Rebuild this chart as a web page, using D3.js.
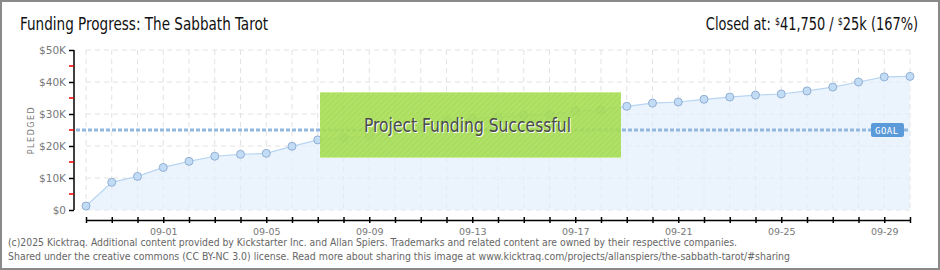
<!DOCTYPE html>
<html>
<head>
<meta charset="utf-8">
<script src="https://cdn.jsdelivr.net/npm/d3@7"></script>
<style>
  body { margin: 0; background: #fff; }
  svg { display: block; }
</style>
</head>
<body>
<div id="chart"></div>
<script>
"use strict";

var days = ["08-29", "08-30", "08-31", "09-01", "09-02", "09-03", "09-04", "09-05", "09-06", "09-07",
    "09-08", "09-09", "09-10", "09-11", "09-12", "09-13", "09-14", "09-15", "09-16", "09-17",
    "09-18", "09-19", "09-20", "09-21", "09-22", "09-23", "09-24", "09-25", "09-26", "09-27",
    "09-28", "09-29", "09-30"];
var pledged = [1250, 8650, 10500, 13300, 15200, 16800, 17400, 17700, 19900, 21900,
    22600, 23000, 24900, 26800, 28000, 28600, 29000, 29600, 29900, 31000,
    31250, 32400, 33400, 33750, 34600, 35300, 35900, 36250, 37200, 38400,
    40000, 41600, 41750];
var goal = 25000;
var yTicks = [0, 10000, 20000, 30000, 40000, 50000];
var yMinorTicks = [5000, 15000, 25000, 35000, 45000];
var xLabelDays = ["09-01", "09-05", "09-09", "09-13", "09-17", "09-21", "09-25", "09-29"];

var W = 940, H = 270;
var margin = { top: 50, left: 86, right: 30, bottom: 60 };
var narrow = "'Liberation Sans Narrow', 'DejaVu Sans Condensed', 'Roboto Condensed', sans-serif";

var parseDay = d3.utcParse("%Y-%m-%d");
var data = days.map(function (d, i) {
    return { date: parseDay("2024-" + d), value: pledged[i] };
});

var svg = d3.select("#chart").append("svg")
    .attr("width", W)
    .attr("height", H);

svg.append("rect")
    .attr("x", 1).attr("y", 1)
    .attr("width", W - 2).attr("height", H - 2)
    .attr("fill", "#fff")
    .attr("stroke", "#8a8a8a")
    .attr("stroke-width", 2);

var x = d3.scaleUtc()
    .domain(d3.extent(data, function (d) { return d.date; }))
    .range([margin.left, W - margin.right]);
var y = d3.scaleLinear()
    .domain([0, 50000])
    .range([210, margin.top]);

// grid
var grid = svg.append("g");
grid.selectAll("line.v")
  .data(data)
  .enter().append("line")
    .attr("x1", function (d) { return x(d.date); })
    .attr("x2", function (d) { return x(d.date); })
    .attr("y1", y(50000)).attr("y2", y(0))
    .attr("stroke", "#e2e2e2")
    .attr("stroke-dasharray", "5,4");
grid.selectAll("line.h")
  .data(yTicks)
  .enter().append("line")
    .attr("x1", x.range()[0]).attr("x2", x.range()[1])
    .attr("y1", function (d) { return y(d); })
    .attr("y2", function (d) { return y(d); })
    .attr("stroke", "#e2e2e2")
    .attr("stroke-dasharray", "5,4");

// area + line
var area = d3.area()
    .x(function (d) { return x(d.date); })
    .y0(y(0))
    .y1(function (d) { return y(d.value); });
svg.append("path")
    .datum(data)
    .attr("d", area)
    .attr("fill", "#e3effc")
    .attr("fill-opacity", 0.7);
svg.append("path")
    .datum(data)
    .attr("d", d3.line()
        .x(function (d) { return x(d.date); })
        .y(function (d) { return y(d.value); }))
    .attr("fill", "none")
    .attr("stroke", "#b8d5f3")
    .attr("stroke-width", 1.2);

// goal line
svg.append("line")
    .attr("x1", x.range()[0] - 10).attr("x2", x.range()[1])
    .attr("y1", y(goal)).attr("y2", y(goal))
    .attr("stroke", "#93b8e0")
    .attr("stroke-width", 3)
    .attr("stroke-dasharray", "4,2");

// dots
svg.selectAll("circle.pt")
  .data(data)
  .enter().append("circle")
    .attr("cx", function (d) { return x(d.date); })
    .attr("cy", function (d) { return y(d.value); })
    .attr("r", 4)
    .attr("fill", "#c3dcf6")
    .attr("stroke", "#90afd3")
    .attr("stroke-width", 1);

// goal tag
var goalTag = svg.append("g")
    .attr("transform", "translate(" + (x.range()[1] - 39) + "," + (y(goal) - 7) + ")");
goalTag.append("rect")
    .attr("width", 33).attr("height", 14).attr("rx", 2)
    .attr("fill", "#5b9ad9");
goalTag.append("text")
    .attr("x", 4).attr("y", 10.5)
    .attr("fill", "#fff")
    .style("font-family", "'DejaVu Sans Mono', monospace")
    .style("font-size", "9px")
    .style("letter-spacing", "0.5px")
    .text("GOAL");

// y axis
var yAxis = svg.append("g")
    .attr("transform", "translate(74,0)")
    .call(d3.axisLeft(y).tickValues(yTicks).tickSize(5)
        .tickFormat(function (d) { return "$" + (d / 1000) + (d ? "K" : ""); }));
yAxis.select(".domain").attr("stroke", "#000").attr("stroke-width", 1.5)
    .attr("d", "M0," + y(50000) + "V" + y(0));
yAxis.selectAll(".tick line").attr("stroke", "#000").attr("stroke-width", 1.5);
yAxis.selectAll(".tick text")
    .attr("fill", "#777")
    .style("font-family", "'DejaVu Sans', sans-serif")
    .style("font-size", "10.5px");
yAxis.selectAll("line.minor")
  .data(yMinorTicks)
  .enter().append("line")
    .attr("x1", -5).attr("x2", 0)
    .attr("y1", function (d) { return y(d); })
    .attr("y2", function (d) { return y(d); })
    .attr("stroke", "#e00")
    .attr("stroke-width", 1.5);

svg.append("text")
    .attr("transform", "translate(34,130) rotate(-90)")
    .attr("text-anchor", "middle")
    .attr("fill", "#777")
    .style("font-family", "'DejaVu Sans', sans-serif")
    .style("font-size", "8px")
    .style("letter-spacing", "1.5px")
    .text("PLEDGED");

// x axis
var xAxis = svg.append("g")
    .attr("transform", "translate(0,220)")
    .call(d3.axisBottom(x).tickValues(data.map(function (d) { return d.date; }))
        .tickSizeInner(3).tickSizeOuter(0)
        .tickFormat(function (d) {
            var s = d3.utcFormat("%m-%d")(d);
            return xLabelDays.indexOf(s) >= 0 ? s : "";
        }));
xAxis.select(".domain").attr("stroke", "#000").attr("stroke-width", 1.5);
xAxis.selectAll(".tick line")
    .attr("y1", -3).attr("y2", 3)
    .attr("stroke", "#000").attr("stroke-width", 1.5);
xAxis.selectAll(".tick text")
    .attr("y", 8)
    .attr("fill", "#777")
    .style("font-family", "'DejaVu Sans', sans-serif")
    .style("font-size", "9.5px");

// funded banner
var defs = svg.append("defs");
var hatch = defs.append("pattern")
    .attr("id", "hatch")
    .attr("patternUnits", "userSpaceOnUse")
    .attr("width", 4).attr("height", 4)
    .attr("patternTransform", "rotate(-45)");
hatch.append("rect").attr("width", 4).attr("height", 4).attr("fill", "#a2da4e");
hatch.append("line").attr("x1", 0).attr("x2", 4).attr("y1", 1).attr("y2", 1)
    .attr("stroke", "#b2e462").attr("stroke-width", 1);

var banner = svg.append("g").attr("opacity", 0.9);
banner.append("rect")
    .attr("x", 320).attr("y", 92)
    .attr("width", 301).attr("height", 66)
    .attr("fill", "url(#hatch)");
banner.append("line")
    .attr("x1", 320).attr("x2", 621).attr("y1", 92.5).attr("y2", 92.5)
    .attr("stroke", "#c6ec8c");
banner.append("line")
    .attr("x1", 320).attr("x2", 621).attr("y1", 157.5).attr("y2", 157.5)
    .attr("stroke", "#c6ec8c");
svg.append("text")
    .attr("x", 365).attr("y", 133)
    .attr("fill", "#fff")
    .attr("textLength", 207).attr("lengthAdjust", "spacingAndGlyphs")
    .style("font-family", narrow)
    .style("font-size", "20px")
    .text("Project Funding Successful");
svg.append("text")
    .attr("x", 364).attr("y", 132)
    .attr("fill", "#4a4a4a")
    .attr("textLength", 207).attr("lengthAdjust", "spacingAndGlyphs")
    .style("font-family", narrow)
    .style("font-size", "20px")
    .text("Project Funding Successful");

// titles
svg.append("text")
    .attr("x", 20).attr("y", 30)
    .attr("fill", "#111")
    .attr("textLength", 248).attr("lengthAdjust", "spacingAndGlyphs")
    .style("font-family", narrow)
    .style("font-size", "18px")
    .text("Funding Progress: The Sabbath Tarot");

// right-hand summary, squeezed to the reference width
var closedText = svg.append("text")
    .attr("transform", "translate(918,30) scale(0.8,1)")
    .attr("text-anchor", "end")
    .attr("fill", "#111")
    .style("font-family", narrow)
    .style("font-size", "18px");
closedText.append("tspan").text("Closed at:  ");
closedText.append("tspan").style("font-size", "11px").attr("dy", -5).text("$");
closedText.append("tspan").attr("dy", 5).text("41,750 /  ");
closedText.append("tspan").style("font-size", "11px").attr("dy", -5).text("$");
closedText.append("tspan").attr("dy", 5).text("25k (167%)");

// footer
var foot = [
    "(c)2025 Kicktraq. Additional content provided by Kickstarter Inc. and Allan Spiers. Trademarks and related content are owned by their respective companies.",
    "Shared under the creative commons (CC BY-NC 3.0) license. Read more about sharing this image at www.kicktraq.com/projects/allanspiers/the-sabbath-tarot/#sharing"
];
var footLen = [729, 782];
svg.selectAll("text.foot")
  .data(foot)
  .enter().append("text")
    .attr("x", 8)
    .attr("y", function (d, i) { return 246 + i * 14; })
    .attr("fill", "#666")
    .attr("textLength", function (d, i) { return footLen[i]; })
    .attr("lengthAdjust", "spacingAndGlyphs")
    .style("font-family", narrow)
    .style("font-size", "10.5px")
    .text(function (d) { return d; });
</script>
</body>
</html>
